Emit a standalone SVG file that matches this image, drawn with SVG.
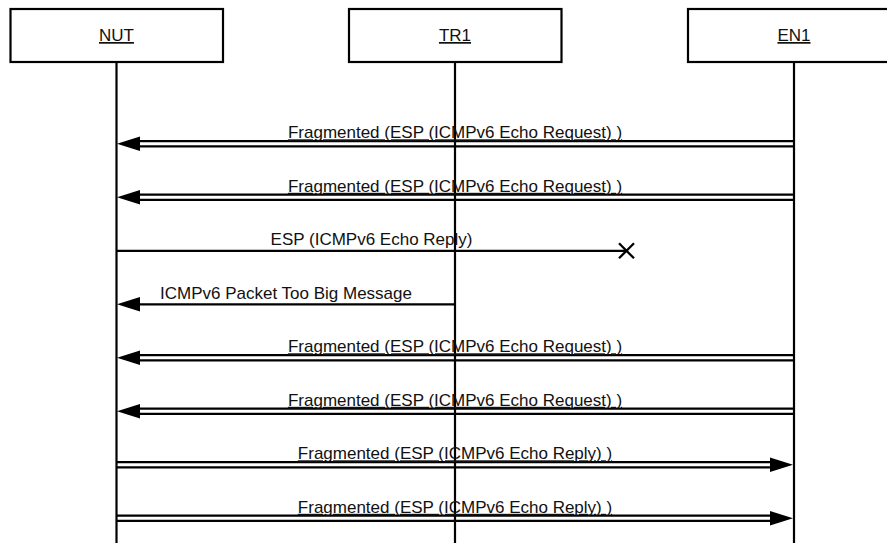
<svg xmlns="http://www.w3.org/2000/svg" width="887" height="543" viewBox="0 0 887 543">
<defs>
<style>
.box{fill:#fff;stroke:#000;stroke-width:2.2}
.life{stroke:#000;stroke-width:2.2;fill:none}
.ln{stroke:#000;stroke-width:2.3;fill:none}
.lbl{font-family:"Liberation Sans",Arial,sans-serif;font-size:17px;fill:#111;text-anchor:middle;text-decoration:underline}
.msg{font-family:"Liberation Sans",Arial,sans-serif;font-size:17px;fill:#111;text-anchor:middle}
.und{text-decoration:underline}
.head{fill:#000}
</style>
</defs>
<rect width="887" height="543" fill="#fff"/>
<g id="connectors">
  <line class="life" x1="116.5" y1="62" x2="116.5" y2="543"/>
  <line class="life" x1="455" y1="62" x2="455" y2="543"/>
  <line class="life" x1="794" y1="62" x2="794" y2="543"/>

  <g id="m1">
    <line class="ln" x1="130" y1="141.2" x2="794" y2="141.2"/>
    <line class="ln" x1="130" y1="146.4" x2="794" y2="146.4"/>
    <polygon class="head" points="117,143.8 140,136.6 140,151"/>
    <text class="msg und" x="455" y="138.3">Fragmented (ESP (ICMPv6 Echo Request) )</text>
  </g>
  <g id="m2">
    <line class="ln" x1="130" y1="194.7" x2="794" y2="194.7"/>
    <line class="ln" x1="130" y1="199.9" x2="794" y2="199.9"/>
    <polygon class="head" points="117,197.3 140,190.1 140,204.5"/>
    <text class="msg und" x="455" y="191.8">Fragmented (ESP (ICMPv6 Echo Request) )</text>
  </g>
  <g id="m3">
    <line class="ln" x1="116.5" y1="250.8" x2="626.5" y2="250.8"/>
    <path class="ln" d="M619,243.3 L634,258.3 M634,243.3 L619,258.3" stroke-width="2.6"/>
    <text class="msg" x="371.5" y="245.3">ESP (ICMPv6 Echo Reply)</text>
  </g>
  <g id="m4">
    <line class="ln" x1="130" y1="304.3" x2="455" y2="304.3"/>
    <polygon class="head" points="117,304.3 140,297.1 140,311.5"/>
    <text class="msg" x="286" y="299">ICMPv6 Packet Too Big Message</text>
  </g>
  <g id="m5">
    <line class="ln" x1="130" y1="355.2" x2="794" y2="355.2"/>
    <line class="ln" x1="130" y1="360.4" x2="794" y2="360.4"/>
    <polygon class="head" points="117,357.8 140,350.6 140,365"/>
    <text class="msg und" x="455" y="352.3">Fragmented (ESP (ICMPv6 Echo Request) )</text>
  </g>
  <g id="m6">
    <line class="ln" x1="130" y1="408.7" x2="794" y2="408.7"/>
    <line class="ln" x1="130" y1="413.9" x2="794" y2="413.9"/>
    <polygon class="head" points="117,411.3 140,404.1 140,418.5"/>
    <text class="msg und" x="455" y="405.8">Fragmented (ESP (ICMPv6 Echo Request) )</text>
  </g>
  <g id="m7">
    <line class="ln" x1="116.5" y1="462.2" x2="780" y2="462.2"/>
    <line class="ln" x1="116.5" y1="467.4" x2="780" y2="467.4"/>
    <polygon class="head" points="793,464.8 770,457.6 770,472"/>
    <text class="msg und" x="455" y="459.3">Fragmented (ESP (ICMPv6 Echo Reply) )</text>
  </g>
  <g id="m8">
    <line class="ln" x1="116.5" y1="515.7" x2="780" y2="515.7"/>
    <line class="ln" x1="116.5" y1="520.9" x2="780" y2="520.9"/>
    <polygon class="head" points="793,518.3 770,511.1 770,525.5"/>
    <text class="msg und" x="455" y="512.8">Fragmented (ESP (ICMPv6 Echo Reply) )</text>
  </g>
</g>
<g id="NUT">
  <rect class="box" x="10.5" y="9" width="212.5" height="53"/>
  <text class="lbl" x="116.5" y="41">NUT</text>
</g>
<g id="TR1">
  <rect class="box" x="349" y="9" width="212.5" height="53"/>
  <text class="lbl" x="455" y="41">TR1</text>
</g>
<g id="EN1">
  <rect class="box" x="688" y="9" width="212.5" height="53"/>
  <text class="lbl" x="794" y="41">EN1</text>
</g>
</svg>
